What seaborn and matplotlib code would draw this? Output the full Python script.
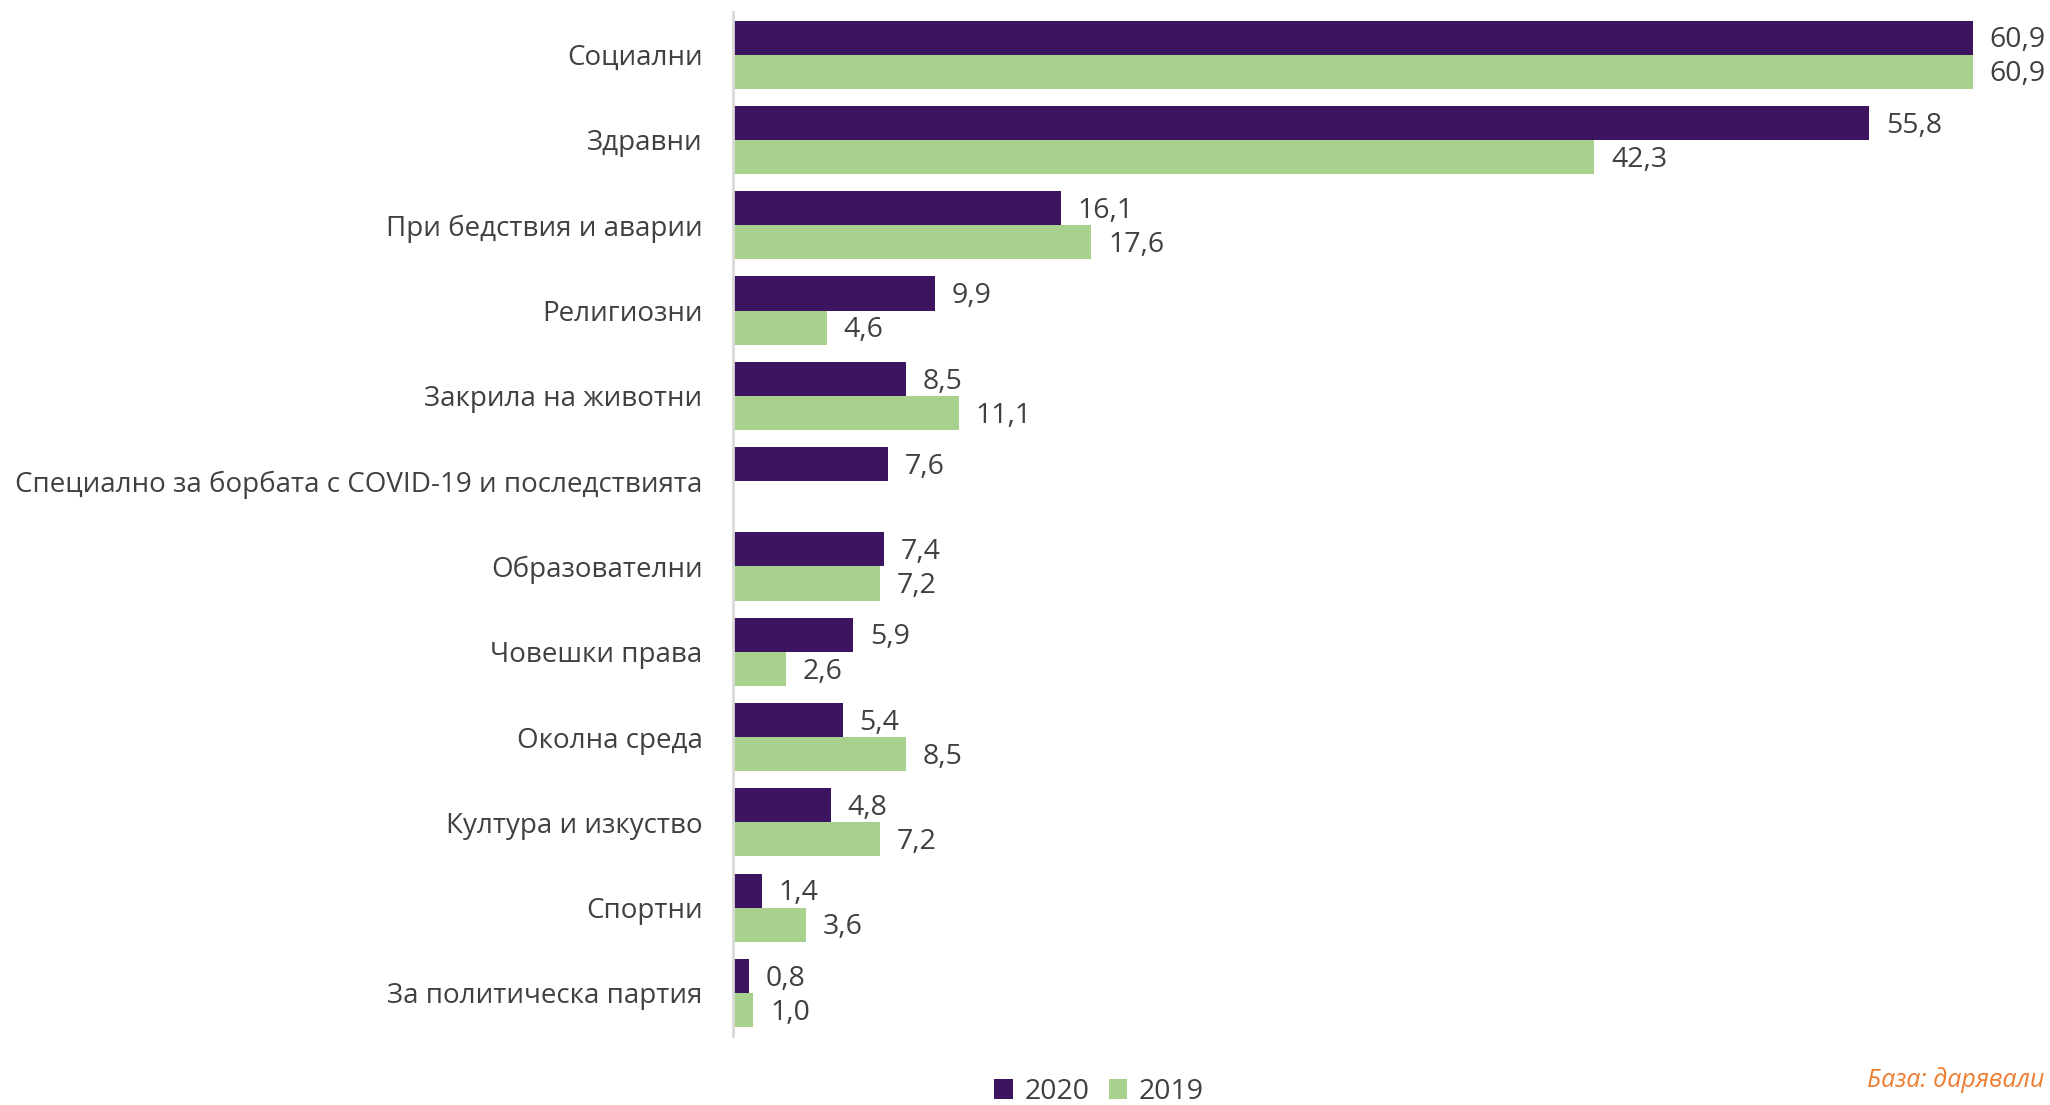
import matplotlib
matplotlib.use("Agg")
import matplotlib.pyplot as plt
import seaborn as sns
import pandas as pd
import numpy as np
from matplotlib.patches import Patch

categories = ["Социални", "Здравни", "При бедствия и аварии", "Религиозни",
              "Закрила на животни", "Специално за борбата с COVID-19 и последствията",
              "Образователни", "Човешки права", "Околна среда", "Култура и изкуство",
              "Спортни", "За политическа партия"]
values_2020 = [60.9, 55.8, 16.1, 9.9, 8.5, 7.6, 7.4, 5.9, 5.4, 4.8, 1.4, 0.8]
values_2019 = [60.9, 42.3, 17.6, 4.6, 11.1, np.nan, 7.2, 2.6, 8.5, 7.2, 3.6, 1.0]
series = ["2020", "2019"]
colors = ["#3D1460", "#A9D18E"]

sns.set_theme(style="white")
plt.rcParams['font.family'] = ['Open Sans', 'DejaVu Sans']
text_color = "#404040"

df = pd.DataFrame({
    "cat": categories * 2,
    "val": values_2020 + values_2019,
    "year": [series[0]] * len(categories) + [series[1]] * len(categories),
})

W, H = 2050, 1105
fig = plt.figure(figsize=(W / 100, H / 100), dpi=100)
left, right = 733 / W, 1973 / W
top, bottom = 1 - 12 / H, 1 - 1035.6 / H
ax = fig.add_axes([left, bottom, right - left, top - bottom])

sns.barplot(data=df, y="cat", x="val", hue="year", orient="h",
            palette=colors, width=0.8, ax=ax, legend=False, saturation=1,
            edgecolor="none")
ax.set_xlim(0, 60.9)
ax.set_ylim(len(categories) - 0.5, -0.5)
ax.set_xlabel("")
ax.set_ylabel("")
ax.set_xticks([])
for s in ["top", "right", "bottom"]:
    ax.spines[s].set_visible(False)
ax.spines["left"].set_color("#D9D9D9")
ax.spines["left"].set_linewidth(2)
ax.tick_params(axis="y", length=0, pad=22, labelsize=20, labelcolor=text_color)

for cont in ax.containers:
    labels = ["" if np.isnan(v) else f"{v:.1f}".replace(".", ",") for v in cont.datavalues]
    texts = ax.bar_label(cont, labels=labels, padding=12, fontsize=20.5, color=text_color,
                         clip_on=False)
    for t in texts:
        t.xyann = (12, -2)

handles = [Patch(facecolor=c, edgecolor="none") for c in colors]
fig.legend(handles, series, loc="center", bbox_to_anchor=(1099 / W, 1 - 1092 / H),
           ncol=2, frameon=False, fontsize=20.5, labelcolor=text_color,
           handlelength=0.65, handleheight=0.65, handletextpad=0.4, columnspacing=0.68)

fig.text(1867 / W, 1 - 1080 / H, "База: дарявали", ha="left", va="center",
         color="#ED7D31", fontsize=18, style="italic")

fig.savefig("out.png", dpi=100)
